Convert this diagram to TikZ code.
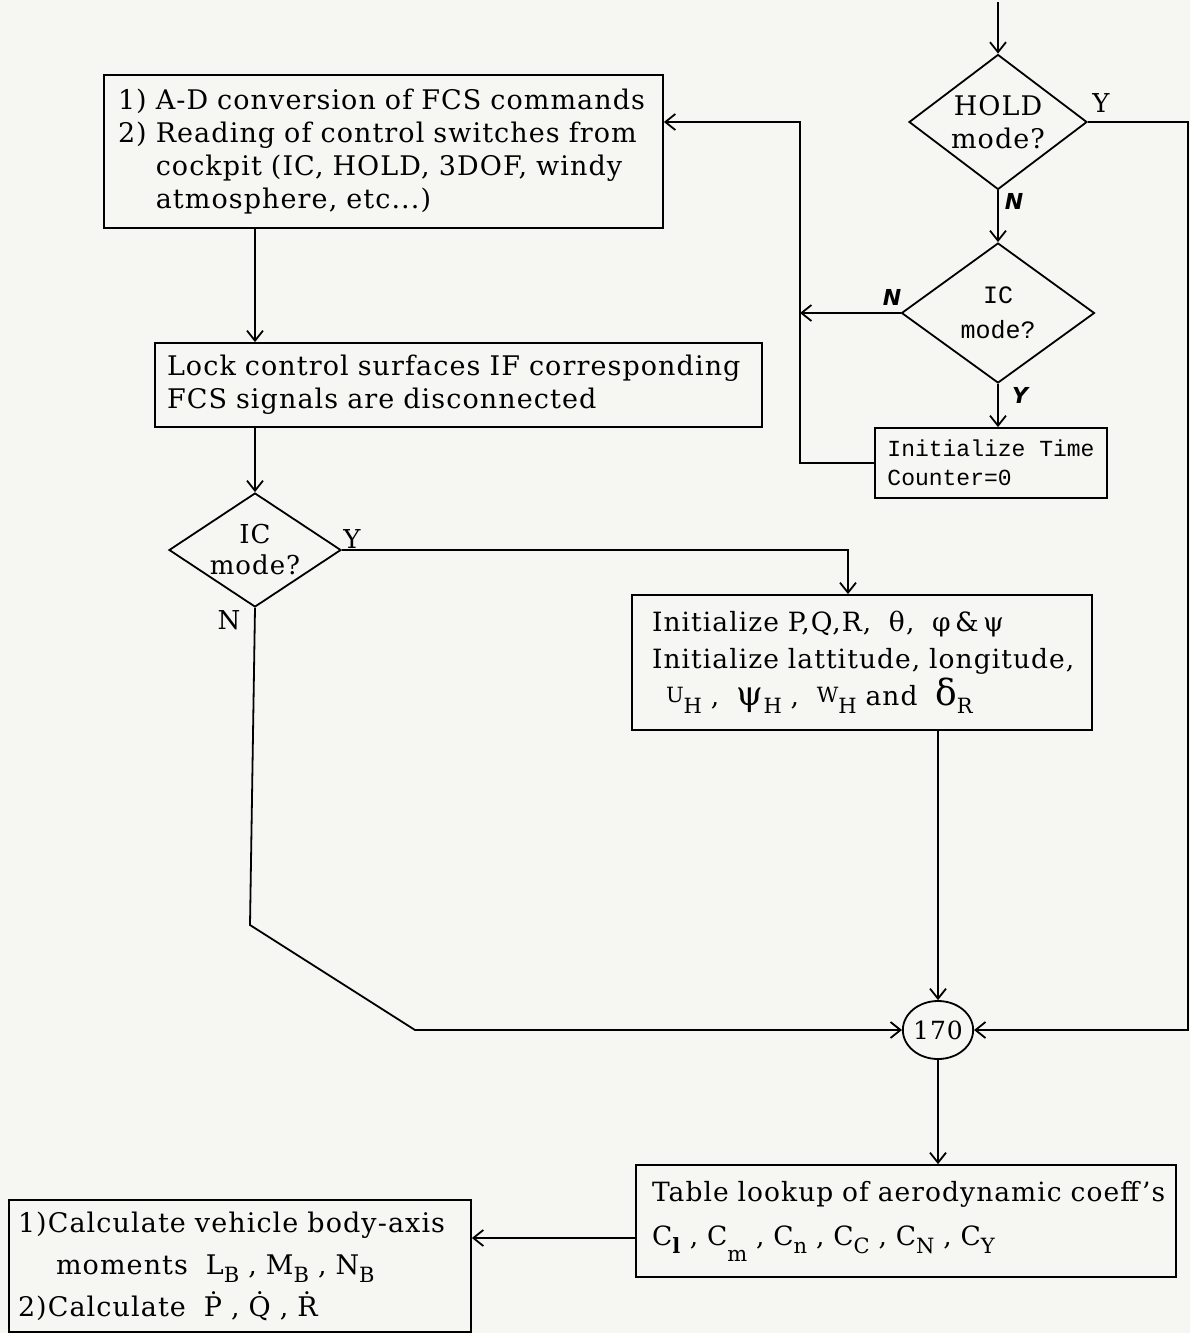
\documentclass[tikz,border=0pt]{standalone}
\usepackage{fontspec}
\setmainfont{DejaVu Serif}[LetterSpace=4.0]
\newfontfamily\monof{Liberation Mono}
\newfontfamily\handf{DejaVu Sans}
\usetikzlibrary{shapes.geometric,arrows.meta}
\definecolor{paper}{RGB}{246,246,243}
% lowered subscript in the running text font
\newcommand\lsub[1]{\raisebox{-0.32em}{\fontsize{21}{21}\selectfont #1}}
\newcommand\smallcap[1]{\raisebox{0.12em}{\fontsize{21}{21}\selectfont #1}}
\begin{document}
\begin{tikzpicture}[x=1pt,y=-1pt,line width=1.8pt,
  flow/.style={-{Straight Barb[length=10pt,width=16pt,line width=1.8pt]}},
  box/.style={draw,rectangle,align=left,inner ysep=0pt,
    font=\fontsize{27}{33}\selectfont},
  decision/.style={draw,diamond,inner sep=0pt},
  dtext/.style={align=center,inner sep=0pt,font=\fontsize{27}{33}\selectfont},
  hand/.style={inner sep=0pt,font=\handf\bfseries\itshape\fontsize{22}{22}\selectfont},
  tag/.style={inner sep=0pt,font=\fontsize{26}{26}\selectfont}]

\fill[paper] (0,0) rectangle (1190,1333);
\useasboundingbox (0,0) rectangle (1190,1333);

% process boxes
\node[box,minimum width=559pt,minimum height=153pt,text width=531pt,inner xsep=14pt]
  (fcs) at (383.5,151.5)
  {1) A-D conversion of FCS commands\\
   2) Reading of control switches from\\
   \phantom{2) }cockpit (IC, HOLD, 3DOF, windy\\
   \phantom{2) }atmosphere, etc...)};

\node[box,minimum width=607pt,minimum height=84pt,text width=583pt,inner xsep=12pt]
  (lock) at (458.5,385)
  {Lock control surfaces IF corresponding\\
   FCS signals are disconnected};

\node[box,minimum width=232pt,minimum height=70pt,inner xsep=12.5pt,
  font=\monof\fontsize{23}{29}\selectfont]
  (timer) at (991,463)
  {Initialize Time\\Counter=0};

\node[box,minimum width=460pt,minimum height=135pt,text width=440pt,inner xsep=10pt,
  font=\fontsize{26.5}{37}\selectfont]
  (init) at (862,662.5)
  {\hspace*{10pt}Initialize P,Q,R, \ θ, \ φ\,\&\,ψ\\
   \hspace*{10pt}Initialize lattitude, longitude,\\
   \hspace*{24pt}\smallcap{U}\lsub{H} , \ {\fontsize{34}{34}\selectfont ψ}\lsub{H} , \
   \smallcap{W}\lsub{H} and \ {\fontsize{36}{36}\selectfont δ}\lsub{R}};

\node[box,minimum width=540pt,minimum height=112pt,text width=508pt,inner xsep=16pt,
  font=\fontsize{26.5}{44}\selectfont]
  (table) at (906,1221)
  {Table lookup of aerodynamic coeff's\\
   C\lsub{\textbf{l}} , C\raisebox{-0.6em}{\fontsize{21}{21}\selectfont m} , C\lsub{n} ,
   C\lsub{C} , C\lsub{N} , C\lsub{Y}};

\node[box,minimum width=462pt,minimum height=132pt,text width=444pt,inner xsep=9pt,
  font=\fontsize{27}{42}\selectfont]
  (calc) at (240,1266)
  {1)Calculate vehicle body-axis\\
   \hspace*{38pt}moments \ L\lsub{B} , M\lsub{B} , N\lsub{B}\\
   2)Calculate \ \.{P} , \.{Q} , \.{R}};

% decisions
\node[decision,minimum width=178pt,minimum height=135pt] (hold) at (998,122) {};
\node[dtext] (holdtxt) at (hold.center) {HOLD\\mode?};

\node[decision,minimum width=193pt,minimum height=140pt] (icr) at (998,313) {};
\node[dtext,font=\monof\fontsize{25}{35}\selectfont] (icrtxt) at (icr.center) {IC\\mode?};

\node[decision,minimum width=172pt,minimum height=114pt] (icl) at (255,550) {};
\node[dtext,font=\fontsize{26}{31}\selectfont] (icltxt) at (icl.center) {IC\\mode?};

% connector
\node[draw,ellipse,minimum width=56pt,minimum height=58pt,inner sep=0pt,
  font=\fontsize{25}{25}\selectfont] (c170) at (938,1030) {170};

% branch labels
\node[tag] (holdY) at (1101,103) {Y};
\node[hand] (holdN) at (1014,201) {N};
\node[hand] (icrN) at (892,297) {N};
\node[hand] (icrY) at (1020,395) {Y};
\node[tag] (iclY) at (352,539) {Y};
\node[tag] (iclN) at (229,620) {N};

% auxiliary points of the connectors
\coordinate (entry) at (998,2);
\coordinate (rtop) at (1188,122);
\coordinate (rbot) at (1188,1030);
\coordinate (bus) at (800,122);
\coordinate (lx) at (255,0);
\coordinate (yx) at (848,0);
\coordinate (nb1) at (250,925);
\coordinate (nb2) at (415,1030);
\coordinate (tl) at (0,1238);

% connectors
\draw[flow] (entry) -- (hold.north);
\draw[flow] (hold.south) -- (icr.north);
\draw[flow] (icr.south) -- (icr.south |- timer.north);
\draw[flow] (hold.east) -- (rtop) -- (rbot) -- (c170.east);
\draw[flow] (icr.west) -- (icr.west -| bus);
\draw[flow] (timer.west) -| (bus) -- (fcs.east |- bus);
\draw[flow] (fcs.south -| lx) -- (lock.north -| lx);
\draw[flow] (lock.south -| lx) -- (icl.north);
\draw[flow] (icl.east) -| (init.north -| yx);
\draw[flow] (icl.south) -- (nb1) -- (nb2) -- (c170.west);
\draw[flow] (init.south -| c170) -- (c170.north);
\draw[flow] (c170.south) -- (c170.south |- table.north);
\draw[flow] (table.west |- tl) -- (calc.east |- tl);
\end{tikzpicture}
\end{document}
